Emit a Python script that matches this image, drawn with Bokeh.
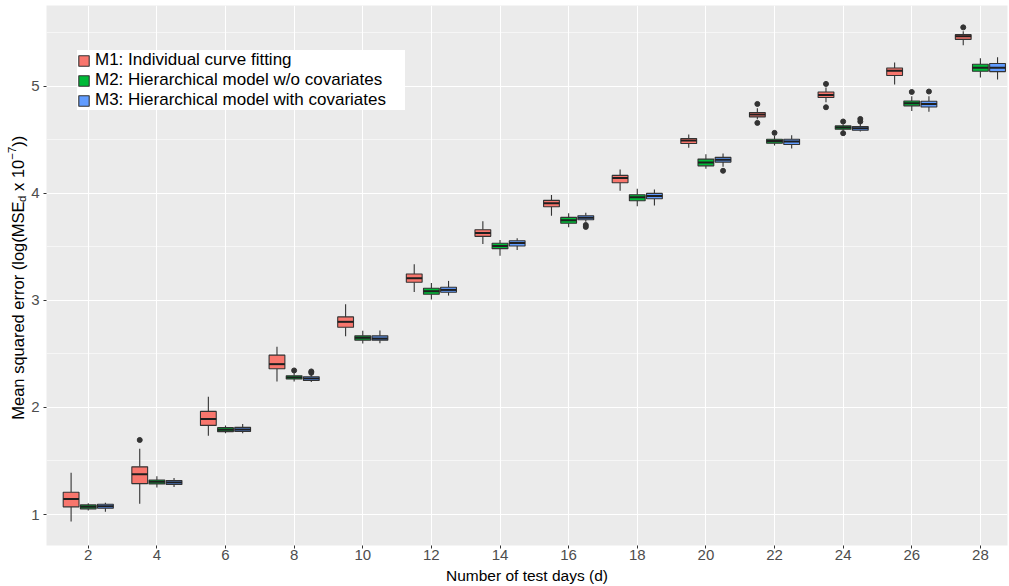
from bokeh.plotting import figure
from bokeh.models import ColumnDataSource, FixedTicker
from bokeh.layouts import row
from bokeh.core.properties import value
from bokeh.embed import file_html
from bokeh.resources import INLINE
import math

# ---------------- data ----------------
days = [2, 4, 6, 8, 10, 12, 14, 16, 18, 20, 22, 24, 26, 28]
methods = ["M1: Individual curve fitting",
           "M2: Hierarchical model w/o covariates",
           "M3: Hierarchical model with covariates"]
colors = ["#F8766D", "#00BA38", "#619CFF"]

m1_lo = [0.935, 1.100, 1.736, 2.242, 2.665, 3.078, 3.526, 3.789, 4.022, 4.423, 4.691, 4.849, 5.014, 5.380]
m1_q1 = [1.072, 1.289, 1.832, 2.361, 2.749, 3.169, 3.597, 3.873, 4.097, 4.464, 4.712, 4.893, 5.098, 5.436]
m1_med = [1.146, 1.376, 1.892, 2.404, 2.799, 3.206, 3.628, 3.905, 4.141, 4.492, 4.734, 4.917, 5.144, 5.464]
m1_q3 = [1.208, 1.445, 1.963, 2.488, 2.845, 3.246, 3.659, 3.933, 4.166, 4.511, 4.753, 4.945, 5.169, 5.480]
m1_hi = [1.389, 1.615, 2.100, 2.566, 2.964, 3.336, 3.737, 3.982, 4.222, 4.548, 4.793, 4.986, 5.219, 5.511]
m1_out_days = [4, 22, 22, 24, 24, 28]
m1_out_vals = [1.696, 4.833, 4.656, 5.020, 4.802, 5.548]

m2_lo = [1.037, 1.252, 1.758, 2.242, 2.596, 3.007, 3.417, 3.681, 3.877, 4.227, 4.445, 4.582, 4.768, 5.079]
m2_q1 = [1.053, 1.286, 1.774, 2.265, 2.628, 3.057, 3.482, 3.719, 3.929, 4.255, 4.467, 4.597, 4.815, 5.138]
m2_med = [1.072, 1.305, 1.792, 2.280, 2.650, 3.085, 3.507, 3.747, 3.961, 4.287, 4.486, 4.613, 4.840, 5.172]
m2_q3 = [1.090, 1.323, 1.811, 2.295, 2.668, 3.113, 3.532, 3.774, 3.985, 4.318, 4.504, 4.628, 4.861, 5.203]
m2_hi = [1.105, 1.357, 1.832, 2.321, 2.715, 3.162, 3.563, 3.812, 4.041, 4.364, 4.535, 4.644, 4.905, 5.259]
m2_out_days = [8, 22, 24, 24, 26]
m2_out_vals = [2.345, 4.563, 4.669, 4.560, 4.945]

m3_lo = [1.025, 1.258, 1.758, 2.237, 2.599, 3.044, 3.470, 3.733, 3.886, 4.246, 4.418, 4.576, 4.759, 5.061]
m3_q1 = [1.059, 1.280, 1.776, 2.252, 2.628, 3.075, 3.507, 3.752, 3.948, 4.290, 4.455, 4.588, 4.805, 5.135]
m3_med = [1.077, 1.298, 1.795, 2.270, 2.643, 3.097, 3.535, 3.771, 3.973, 4.311, 4.483, 4.607, 4.833, 5.172]
m3_q3 = [1.096, 1.317, 1.814, 2.286, 2.668, 3.122, 3.556, 3.789, 3.998, 4.334, 4.504, 4.622, 4.858, 5.210]
m3_hi = [1.109, 1.342, 1.845, 2.305, 2.718, 3.181, 3.579, 3.817, 4.035, 4.371, 4.541, 4.650, 4.905, 5.268]
m3_out_days = [8, 8, 16, 16, 20, 24, 24, 26]
m3_out_vals = [2.336, 2.323, 3.703, 3.685, 4.209, 4.693, 4.669, 4.949]

y_ticks = [1, 2, 3, 4, 5]
y_minor = [1.5, 2.5, 3.5, 4.5, 5.5]

# ---------------- layout constants ----------------
FONT = "Liberation Sans"
W, H = 1009, 586
TW = 28                                     # width of the y-title strip
X0, X1 = 0.783, 28.79
Y0, Y1 = 0.711, 5.752
FL, FR, FT, FB = 45, 1007, 5, 546           # frame edges in page pixels

# ---------------- main figure ----------------
p = figure(width=W - TW, height=H, x_range=(X0, X1), y_range=(Y0, Y1),
           output_backend="svg", toolbar_location=None,
           min_border_left=FL - TW, min_border_right=W - FR, min_border_top=FT,
           min_border_bottom=H - FB)
p.background_fill_color = "#EBEBEB"
p.border_fill_color = "white"
p.outline_line_color = None

p.xaxis.ticker = FixedTicker(ticks=days, minor_ticks=[])
p.yaxis.ticker = FixedTicker(ticks=y_ticks, minor_ticks=y_minor)
for ax in (p.xaxis, p.yaxis):
    ax.axis_line_color = None
    ax.major_tick_line_color = "#333333"
    ax.major_tick_out = 3
    ax.major_tick_in = 0
    ax.minor_tick_line_color = None
    ax.major_label_text_color = "#4D4D4D"
    ax.major_label_text_font = FONT
    ax.major_label_text_font_size = "15px"
p.xaxis.major_label_standoff = 1
p.yaxis.major_label_standoff = 3
p.xaxis.axis_label = "Number of test days (d)"
p.xaxis.axis_label_text_font = FONT
p.xaxis.axis_label_text_font_size = "15.5px"
p.xaxis.axis_label_text_font_style = "normal"
p.xaxis.axis_label_text_color = "black"
p.xaxis.axis_label_standoff = 4

p.xgrid.grid_line_color = "white"
p.xgrid.grid_line_width = 1.1
p.ygrid.grid_line_color = "white"
p.ygrid.grid_line_width = 1.1
p.ygrid.minor_grid_line_color = "white"
p.ygrid.minor_grid_line_width = 0.55

# ---------------- boxes ----------------
offsets = [-0.5, 0.0, 0.5]
bw = 0.46
stats = [
    (m1_lo, m1_q1, m1_med, m1_q3, m1_hi, m1_out_days, m1_out_vals),
    (m2_lo, m2_q1, m2_med, m2_q3, m2_hi, m2_out_days, m2_out_vals),
    (m3_lo, m3_q1, m3_med, m3_q3, m3_hi, m3_out_days, m3_out_vals),
]
for (lo, q1, med, q3, hi, od, ov), off, col, name in zip(stats, offsets, colors, methods):
    xs = [d + off for d in days]
    src = ColumnDataSource(dict(x=xs, x0=[x - bw / 2 for x in xs], x1=[x + bw / 2 for x in xs],
                                lo=lo, q1=q1, med=med, q3=q3, hi=hi))
    p.segment(x0="x", y0="lo", x1="x", y1="q1", source=src, line_color="#333333", line_width=1.1)
    p.segment(x0="x", y0="q3", x1="x", y1="hi", source=src, line_color="#333333", line_width=1.1)
    p.vbar(x="x", width=bw, bottom="q1", top="q3", source=src, fill_color=col,
           line_color="#333333", line_width=1.1, legend_label=name)
    p.segment(x0="x0", y0="med", x1="x1", y1="med", source=src, line_color="#1F1F1F", line_width=2)
    osrc = ColumnDataSource(dict(x=[d + off for d in od], y=ov))
    p.scatter(x="x", y="y", source=osrc, size=5, fill_color="#333333", line_color="#333333")

# ---------------- legend ----------------
lg = p.legend[0]
lg.location = (31, 435)
lg.label_text_font = FONT
lg.label_text_font_size = "17px"
lg.label_text_color = "black"
lg.glyph_width = 13
lg.glyph_height = 13
lg.label_height = 16
lg.label_width = 310
lg.label_standoff = 5
lg.spacing = 0
lg.padding = 6
lg.margin = 0
lg.border_line_color = None
lg.background_fill_color = "white"
lg.background_fill_alpha = 1.0

# ---------------- y-axis title strip (text with sub/superscript) ----------------
# strip frame spans the same vertical pixels as the main frame; y data = pixels from page bottom
t = figure(width=TW, height=H, x_range=(0, TW), y_range=(H - FB, H - FT), title=None,
           output_backend="svg", toolbar_location=None, min_border_left=0, min_border_right=0,
           min_border_top=FT, min_border_bottom=H - FB,
           x_axis_location=None, y_axis_location=None)
t.outline_line_color = None
t.background_fill_color = "white"
t.border_fill_color = "white"
t.xgrid.visible = False
t.ygrid.visible = False

fs_main = 16.5
fs_small = 11.5
cx = 17
start = H - 420
w_main = 13.226 * fs_main
w_d = 0.556 * fs_small
w_sp = 0.278 * fs_main
w_x10 = (0.500 + 0.278 + 0.556 + 0.556) * fs_main
w_sup = (0.584 + 0.556) * fs_small
parts = [
    ("Mean squared error (log(MSE", cx, start, fs_main),
    ("d", cx + 4, start + w_main, fs_small),
    ("x 10", cx, start + w_main + w_d + w_sp, fs_main),
    ("\u22127", cx - 6, start + w_main + w_d + w_sp + w_x10, fs_small),
    ("))", cx, start + w_main + w_d + w_sp + w_x10 + w_sup, fs_main),
]
tsrc = ColumnDataSource(dict(x=[q[1] for q in parts], y=[q[2] for q in parts],
                             txt=[q[0] for q in parts], fs=[f"{q[3]}px" for q in parts]))
t.text(x="x", y="y", text="txt", source=tsrc, angle=math.pi / 2, text_align="left",
       text_baseline="middle", text_font=value(FONT), text_font_size="fs", text_color="black")

layout = row(t, p)
open("out.html", "w").write(file_html(layout, INLINE))
